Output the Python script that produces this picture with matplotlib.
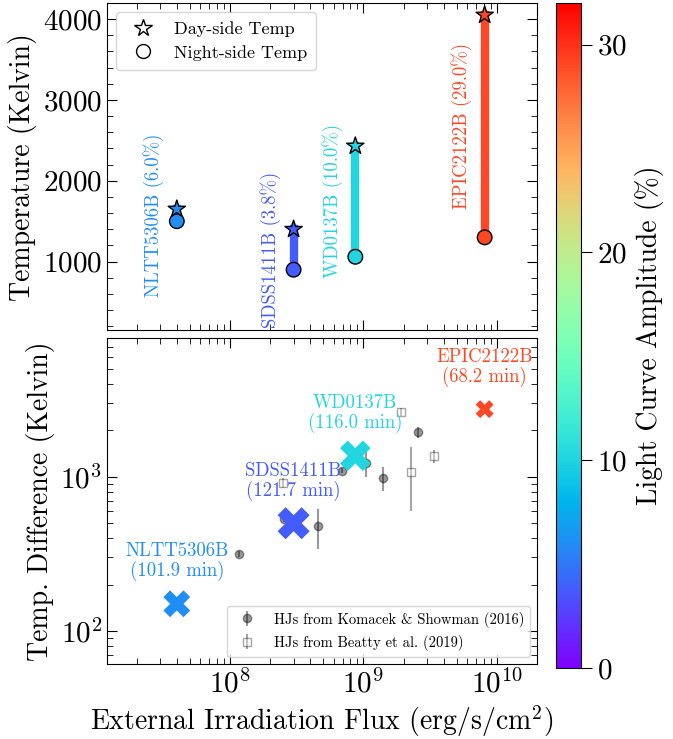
import matplotlib
matplotlib.use("Agg")
import matplotlib.pyplot as plt
import numpy as np
from matplotlib.lines import Line2D

plt.rcParams["font.family"] = "serif"
plt.rcParams["font.serif"] = ["cmr10", "DejaVu Serif"]
plt.rcParams["mathtext.fontset"] = "cm"
plt.rcParams["axes.formatter.use_mathtext"] = True
plt.rcParams["axes.unicode_minus"] = False

# white dwarf - brown dwarf systems
names = ["NLTT5306B", "SDSS1411B", "WD0137B", "EPIC2122B"]
flux = np.array([4.0e7, 3.0e8, 8.7e8, 8.1e9])
t_day = np.array([1650, 1400, 2430, 4050])
t_night = np.array([1500, 900, 1060, 1300])
amplitude = np.array([6.0, 3.8, 10.0, 29.0])
period = np.array([101.9, 121.7, 116.0, 68.2])

# hot jupiters, Komacek & Showman (2016)
ks_flux = np.array([1.17e8, 2.53e8, 4.54e8, 6.97e8, 1.04e9, 1.41e9, 2.57e9])
ks_dt = np.array([316, 533, 481, 1094, 1233, 985, 1960])
ks_err = np.array([15, 25, 140, 40, 230, 180, 160])

# hot jupiters, Beatty et al. (2019)
b_flux = np.array([2.49e8, 1.92e9, 2.28e9, 3.39e9])
b_dt = np.array([914, 2644, 1078, 1369])
b_err = np.array([70, 170, 480, 130])

cmap = plt.get_cmap("rainbow")
norm = plt.Normalize(0, 32)
colors = cmap(norm(amplitude))

fig = plt.figure(figsize=(6.73, 7.39), dpi=100)
ax1 = fig.add_axes([0.159, 0.553, 0.639, 0.443])
ax2 = fig.add_axes([0.159, 0.1015, 0.639, 0.4415], sharex=ax1)
cax = fig.add_axes([0.826, 0.096, 0.037, 0.900])

# top panel: day / night temperatures
for i in range(len(names)):
    ax1.plot([flux[i], flux[i]], [t_night[i], t_day[i]], color=colors[i],
             lw=6, zorder=1)
    ax1.text(flux[i] * 0.67, (t_day[i] + t_night[i]) / 2,
             "%s (%.1f%%)" % (names[i], amplitude[i]), rotation=90,
             color=colors[i], ha="center", va="center", fontsize=13.5)
ax1.scatter(flux, t_night, c=amplitude, cmap=cmap, norm=norm, s=110,
            marker="o", edgecolors="k", linewidths=1, zorder=3)
ax1.scatter(flux, t_day, c=amplitude, cmap=cmap, norm=norm, s=170,
            marker="*", edgecolors="k", linewidths=1, zorder=3)

ax1.set_xscale("log")
ax1.set_xlim(1.2e7, 2e10)
ax1.set_ylim(150, 4200)
ax1.set_yticks([1000, 2000, 3000, 4000])
ax1.yaxis.set_minor_locator(matplotlib.ticker.MultipleLocator(200))
ax1.set_ylabel("Temperature (Kelvin)", fontsize=20)
ax1.tick_params(labelbottom=False)

handles = [
    Line2D([], [], ls="", marker="*", ms=13, mfc="white", mec="k", mew=1),
    Line2D([], [], ls="", marker="o", ms=10, mfc="white", mec="k", mew=1),
]
ax1.legend(handles, ["Day-side Temp", "Night-side Temp"], loc="upper left",
           fontsize=13, handletextpad=0.7, borderpad=0.5, labelspacing=0.45)

# bottom panel: temperature difference
ax2.errorbar(ks_flux, ks_dt, yerr=ks_err, fmt="o", color="k", alpha=0.4,
             ms=6, label="HJs from Komacek & Showman (2016)", zorder=2)
ax2.errorbar(b_flux, b_dt, yerr=b_err, fmt="s", color="k", mfc="white",
             alpha=0.35, ms=6, label="HJs from Beatty et al. (2019)", zorder=2)
dt = t_day - t_night
ax2.scatter(flux, dt, c=amplitude, cmap=cmap, norm=norm, marker="X",
            s=0.036 * period ** 2, linewidths=0, zorder=3)
for i in range(len(names)):
    ax2.text(flux[i], dt[i] * 1.4, "%s\n(%.1f min)" % (names[i], period[i]),
             color=colors[i], ha="center", va="bottom", fontsize=13.5,
             multialignment="center", linespacing=1.05)

ax2.set_yscale("log")
ax2.set_ylim(61, 8000)
ax2.set_xlabel("External Irradiation Flux (erg/s/cm$^2$)", fontsize=20)
ax2.set_ylabel("Temp. Difference (Kelvin)", fontsize=20)
ax2.legend(loc="lower right", fontsize=10.5)

for ax in (ax1, ax2):
    ax.tick_params(which="both", direction="in", top=True, right=True,
                   labelsize=21)
    ax.tick_params(which="major", length=7)
    ax.tick_params(which="minor", length=4)

sm = matplotlib.cm.ScalarMappable(norm=norm, cmap=cmap)
cb = fig.colorbar(sm, cax=cax, ticks=[0, 10, 20, 30])
cb.ax.tick_params(labelsize=21, length=8)
cb.set_label("Light Curve Amplitude (%)", fontsize=20, labelpad=6)

plt.savefig("out.png", dpi=100)
